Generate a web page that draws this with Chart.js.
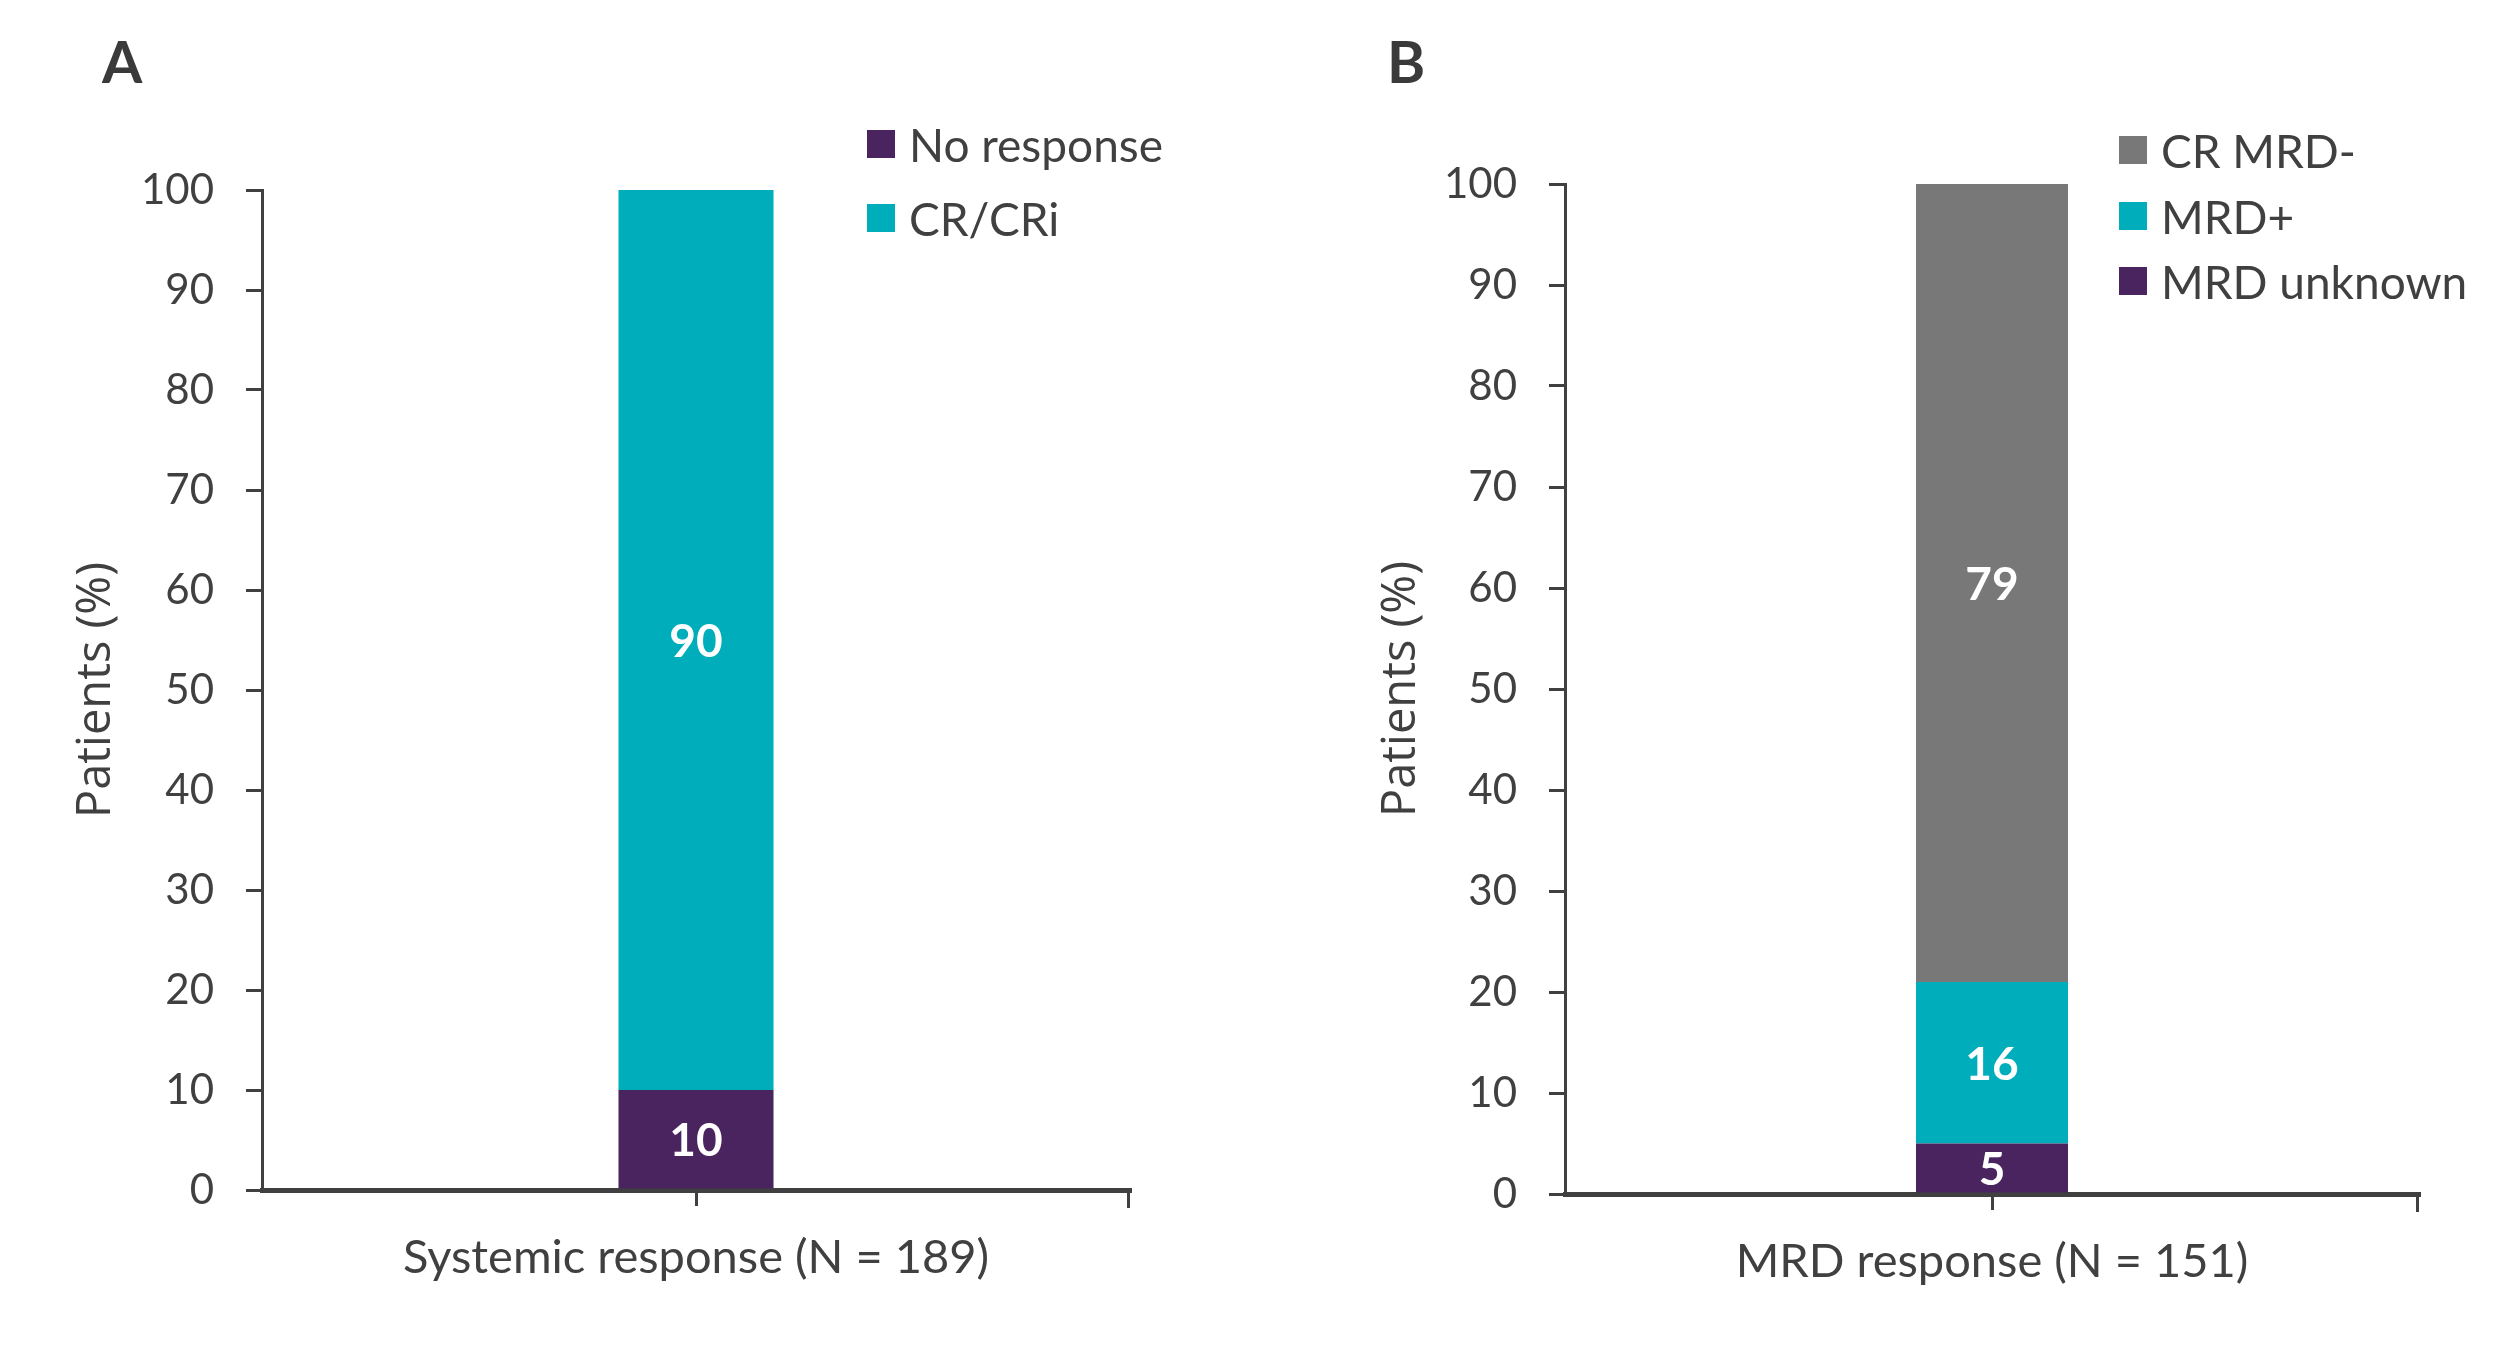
<!DOCTYPE html>
<html>
<head>
<meta charset="utf-8">
<script src="https://cdn.jsdelivr.net/npm/chart.js@4.4.1/dist/chart.umd.min.js"></script>
<style>
body { margin: 0; background: #fff; }
#wrap { position: relative; width: 2506px; height: 1365px; font-family: Lato, sans-serif; color: #404040; }
.panel { position: absolute; top: 0; width: 1253px; height: 1365px; }
.letter { position: absolute; font-weight: 700; font-size: 58px; line-height: 58px; color: #3a3a3a; }
.leg { position: absolute; height: 50px; display: flex; align-items: center; font-size: 46px; white-space: nowrap; }
.leg .box { width: 28px; height: 28px; margin-right: 14px; }
</style>
</head>
<body>
<div id="wrap">
	<div class="letter" style="left:102px; top:32px;">A</div>
	<div class="letter" style="left:1387px; top:32px;">B</div>
	<div class="panel" style="left:0px;"><canvas id="chart-a"></canvas></div>
	<div class="panel" style="left:1253px;"><canvas id="chart-b"></canvas></div>
	<div id="legend-a"></div>
	<div id="legend-b"></div>
</div>
<script>
// panel A - systemic response
var catA = ["Systemic response (N = 189)"];
var noResponse = [10];
var crCri = [90];

// panel B - MRD response
var catB = ["MRD response (N = 151)"];
var mrdUnknown = [5];
var mrdPos = [16];
var crMrdNeg = [79];

var purple = "#4a245f";
var teal = "#00aebb";
var grey = "#787878";
var ink = "#404040";

// white numbers in the middle of each segment
var valueLabels = {
	id: "valueLabels",
	afterDatasetsDraw: function(chart) {
		var ctx = chart.ctx;
		ctx.save();
		ctx.fillStyle = "#fff";
		ctx.font = "bold 46px Lato";
		ctx.textAlign = "center";
		ctx.textBaseline = "middle";
		chart.data.datasets.forEach(function(ds, i) {
			chart.getDatasetMeta(i).data.forEach(function(bar, j) {
				ctx.fillText(ds.data[j], bar.x, (bar.y + bar.base) / 2 + 2);
			});
		});
		ctx.restore();
	}
};

// small tick at the right end of the x axis
var axisEnd = {
	id: "axisEnd",
	afterDraw: function(chart) {
		var a = chart.chartArea;
		var ctx = chart.ctx;
		ctx.save();
		ctx.strokeStyle = ink;
		ctx.lineWidth = 3;
		ctx.beginPath();
		ctx.moveTo(a.right - 1.5, a.bottom);
		ctx.lineTo(a.right - 1.5, a.bottom + 18);
		ctx.stroke();
		ctx.restore();
	}
};

function makeOptions(yWidth, titlePad, xHeight, padTop, padRight) {
	return {
		responsive: true,
		maintainAspectRatio: false,
		animation: false,
		layout: { padding: { left: 0, top: padTop, right: padRight, bottom: 0 } },
		plugins: {
			legend: { display: false },
			tooltip: { enabled: false }
		},
		scales: {
			x: {
				stacked: true,
				ticks: { padding: 24, color: ink, font: { family: "Lato", size: 47 } },
				grid: { offset: false, drawOnChartArea: false, drawTicks: true, tickLength: 16, color: ink, lineWidth: 3 },
				border: { display: true, color: ink, width: 5 },
				afterFit: function(s) { s.height = xHeight; }
			},
			y: {
				stacked: true,
				min: 0,
				max: 100,
				ticks: { stepSize: 10, padding: 32, color: ink, font: { family: "Lato", size: 42 } },
				grid: { drawOnChartArea: false, drawTicks: true, tickLength: 16, color: ink, lineWidth: 3 },
				border: { display: true, color: ink, width: 3 },
				title: {
					display: true,
					text: "Patients (%)",
					color: ink,
					font: { family: "Open Sans", size: 47 },
					padding: { top: titlePad, bottom: 0 }
				},
				afterFit: function(s) { s.width = yWidth; }
			}
		}
	};
}

function bar(label, data, color, pct) {
	return {
		label: label,
		data: data,
		backgroundColor: color,
		borderWidth: 0,
		barPercentage: pct,
		categoryPercentage: 1
	};
}

new Chart(document.getElementById("chart-a"), {
	type: "bar",
	data: {
		labels: catA,
		datasets: [
			bar("No response", noResponse, purple, 0.1786),
			bar("CR/CRi", crCri, teal, 0.1786)
		]
	},
	options: makeOptions(262, 68, 175, 190, 123),
	plugins: [valueLabels, axisEnd]
});

new Chart(document.getElementById("chart-b"), {
	type: "bar",
	data: {
		labels: catB,
		datasets: [
			bar("MRD unknown", mrdUnknown, purple, 0.178),
			bar("MRD+", mrdPos, teal, 0.178),
			bar("CR MRD-", crMrdNeg, grey, 0.178)
		]
	},
	options: makeOptions(312, 120, 171, 184, 87),
	plugins: [valueLabels, axisEnd]
});

// html legends
function legend(id, items, left, tops) {
	var html = "";
	items.forEach(function(it, i) {
		html += '<div class="leg" style="left:' + left + 'px; top:' + (tops[i] - 25) + 'px;">' +
			'<span class="box" style="background:' + it[1] + '"></span>' + it[0] + '</div>';
	});
	document.getElementById(id).innerHTML = html;
}
legend("legend-a", [["No response", purple], ["CR/CRi", teal]], 867, [144, 218]);
legend("legend-b", [["CR MRD-", grey], ["MRD+", teal], ["MRD unknown", purple]], 2119, [150, 216, 281]);
</script>
</body>
</html>
